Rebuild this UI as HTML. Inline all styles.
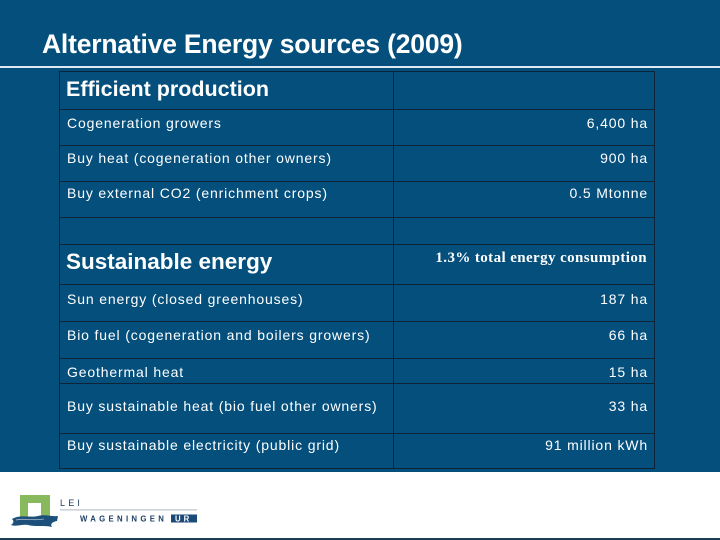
<!DOCTYPE html>
<html>
<head>
<meta charset="utf-8">
<style>
  html,body{margin:0;padding:0;}
  body{width:720px;height:540px;position:relative;overflow:hidden;background:#ffffff;font-family:"Liberation Sans",Arial,sans-serif;}
  #bg{position:absolute;left:0;top:0;width:720px;height:472px;background:#044f7c;}
  #rule{position:absolute;left:0;top:66px;width:720px;height:2px;background:#dfe9f1;}
  #title{position:absolute;left:42px;top:31px;font-size:26.5px;line-height:26.5px;font-weight:bold;color:#ffffff;letter-spacing:-0.2px;white-space:nowrap;}
  .hl{position:absolute;height:1px;background:#0c2338;}
  .vl{position:absolute;width:1px;background:#0c2338;}
  .t{position:absolute;left:67px;font-size:14px;line-height:14px;color:#ffffff;letter-spacing:0.85px;white-space:nowrap;}
  .v{position:absolute;right:72px;font-size:14px;line-height:14px;color:#ffffff;letter-spacing:0.85px;white-space:nowrap;text-align:right;}
  .h{position:absolute;left:66px;font-weight:bold;color:#ffffff;white-space:nowrap;}
  #serif{position:absolute;right:73px;top:251px;font-family:"Liberation Serif","Times New Roman",serif;font-weight:bold;font-size:15px;line-height:15px;letter-spacing:0.4px;color:#ffffff;white-space:nowrap;}
  #bottomline{position:absolute;left:0;top:538px;width:720px;height:2px;background:#1d3b55;}
</style>
</head>
<body>
<div id="bg"></div>
<div id="rule"></div>
<div id="title">Alternative Energy sources (2009)</div>

<!-- table borders -->
<div class="hl" style="left:59px;top:71px;width:596px;"></div>
<div class="hl" style="left:59px;top:109px;width:596px;"></div>
<div class="hl" style="left:59px;top:145px;width:596px;"></div>
<div class="hl" style="left:59px;top:181px;width:596px;"></div>
<div class="hl" style="left:59px;top:217px;width:596px;"></div>
<div class="hl" style="left:59px;top:244px;width:596px;"></div>
<div class="hl" style="left:59px;top:284px;width:596px;"></div>
<div class="hl" style="left:59px;top:321px;width:596px;"></div>
<div class="hl" style="left:59px;top:358px;width:596px;"></div>
<div class="hl" style="left:59px;top:383px;width:596px;"></div>
<div class="hl" style="left:59px;top:433px;width:596px;"></div>
<div class="hl" style="left:59px;top:468px;width:596px;"></div>
<div class="vl" style="left:59px;top:71px;height:398px;"></div>
<div class="vl" style="left:393px;top:71px;height:398px;"></div>
<div class="vl" style="left:654px;top:71px;height:398px;"></div>

<!-- headings -->
<div class="h" style="top:79px;font-size:21.5px;line-height:21.5px;">Efficient production</div>
<div class="h" style="top:251px;font-size:22.5px;line-height:22.5px;">Sustainable energy</div>

<!-- labels -->
<div class="t" style="top:116px;">Cogeneration growers</div>
<div class="t" style="top:151px;">Buy heat (cogeneration other owners)</div>
<div class="t" style="top:186px;">Buy external CO2 (enrichment crops)</div>
<div class="t" style="top:292px;">Sun energy (closed greenhouses)</div>
<div class="t" style="top:328px;">Bio fuel (cogeneration and boilers growers)</div>
<div class="t" style="top:365px;">Geothermal heat</div>
<div class="t" style="top:399px;">Buy sustainable heat (bio fuel other owners)</div>
<div class="t" style="top:438px;">Buy sustainable electricity (public grid)</div>

<!-- values -->
<div class="v" style="top:116px;">6,400 ha</div>
<div class="v" style="top:151px;">900 ha</div>
<div class="v" style="top:186px;">0.5 Mtonne</div>
<div id="serif">1.3% total energy consumption</div>
<div class="v" style="top:292px;">187 ha</div>
<div class="v" style="top:328px;">66 ha</div>
<div class="v" style="top:365px;">15 ha</div>
<div class="v" style="top:399px;">33 ha</div>
<div class="v" style="top:438px;">91 million kWh</div>

<!-- logo -->
<svg style="position:absolute;left:0;top:472px;" width="220" height="66" viewBox="0 472 220 66">
  <rect x="20" y="495" width="30" height="22" fill="#88b95c"/>
  <rect x="28" y="503" width="13" height="14" fill="#ffffff"/>
  <path d="M12,519 C20,514 30,518 38,516 C46,514 52,517 58,516 L57,521 C52,522 50,524 52,527 C44,525 36,527 28,525 C22,524 16,527 11,525 C14,523 14,521 12,519 Z" fill="#1d4f7b"/>
  <path d="M16,520 C24,518 34,521 44,519" stroke="#ffffff" stroke-width="0.8" fill="none" opacity="0.6"/>
  <text x="60" y="506" font-family="Liberation Sans, Arial, sans-serif" font-size="9" letter-spacing="3.2" fill="#1b3f66">LEI</text>
  <rect x="60" y="509.5" width="137" height="0.8" fill="#9aa7b4"/>
  <text x="80" y="521.5" font-family="Liberation Sans, Arial, sans-serif" font-size="7.8" font-weight="bold" letter-spacing="3.3" fill="#1b3f66">WAGENINGEN</text>
  <rect x="171" y="514.5" width="26" height="8" fill="#1b4a78"/>
  <text x="175" y="521.5" font-family="Liberation Sans, Arial, sans-serif" font-size="7.8" font-weight="bold" letter-spacing="3" fill="#ffffff">UR</text>
</svg>
<div id="bottomline"></div>
</body>
</html>
